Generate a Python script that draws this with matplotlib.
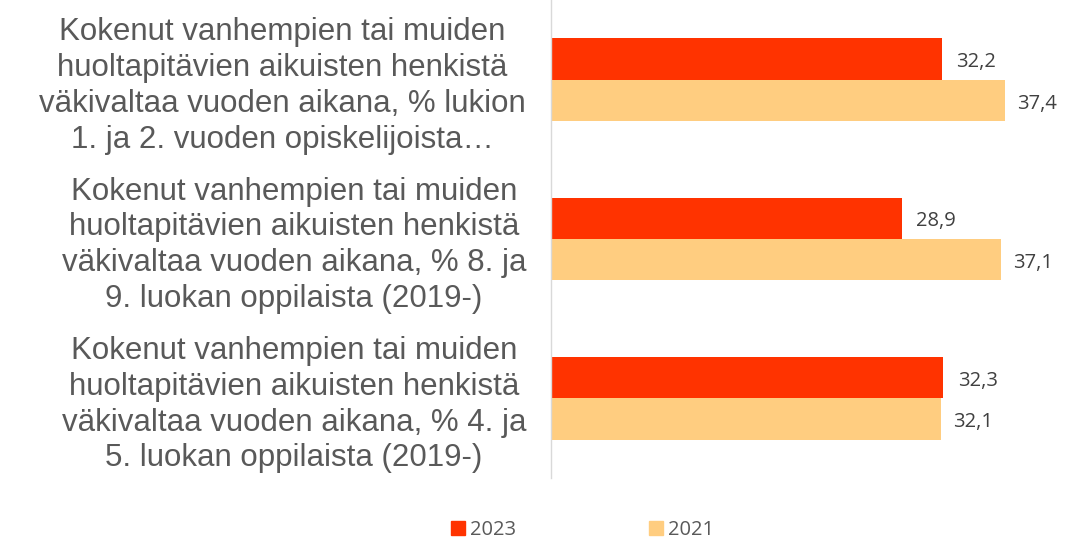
import matplotlib
matplotlib.use("Agg")
import matplotlib.pyplot as plt
import numpy as np
from matplotlib.lines import Line2D

categories = [
    "Kokenut vanhempien tai muiden\nhuoltapitävien aikuisten henkistä\nväkivaltaa vuoden aikana, % lukion\n1. ja 2. vuoden opiskelijoista…",
    "Kokenut vanhempien tai muiden\nhuoltapitävien aikuisten henkistä\nväkivaltaa vuoden aikana, % 8. ja\n9. luokan oppilaista (2019-)",
    "Kokenut vanhempien tai muiden\nhuoltapitävien aikuisten henkistä\nväkivaltaa vuoden aikana, % 4. ja\n5. luokan oppilaista (2019-)",
]
series_names = ["2023", "2021"]
values_2023 = [32.2, 28.9, 32.3]
values_2021 = [37.4, 37.1, 32.1]

c2023 = "#FF3300"
c2021 = "#FFCD80"
txt = "#595959"

fig = plt.figure(figsize=(10.79, 5.39), dpi=100)
ax = fig.add_axes([551/1079, 61/539, (1036.6-551)/1079, 478/539])

y = np.arange(len(categories))
h = 0.26
ax.barh(y - h/2, values_2023, height=h, color=c2023, label=series_names[0])
ax.barh(y + h/2, values_2021, height=h, color=c2021, label=series_names[1])

for yi, v in zip(y - h/2, values_2023):
    ax.text(v + 1.2, yi + 0.02, f"{v:.1f}".replace(".", ","), va="center", ha="left",
            fontsize=14.5, color="#404040", family="Open Sans")
for yi, v in zip(y + h/2, values_2021):
    ax.text(v + 1.0, yi + 0.02, f"{v:.1f}".replace(".", ","), va="center", ha="left",
            fontsize=14.5, color="#404040", family="Open Sans")

ax.set_xlim(0, 40)
ax.set_ylim(len(categories) - 0.5, -0.5)
ax.set_yticks(y)
ax.set_yticklabels(categories, multialignment="center", fontsize=22.5, color=txt,
                   family="Liberation Sans", linespacing=1.25)
ax.tick_params(axis="y", length=0, pad=18)
ax.set_xticks([])
for s in ["top", "right", "bottom"]:
    ax.spines[s].set_visible(False)
ax.spines["left"].set_color("#D9D9D9")
ax.spines["left"].set_linewidth(1.0)

handles = [Line2D([], [], marker="s", linestyle="none", markersize=10, color=c2023),
           Line2D([], [], marker="s", linestyle="none", markersize=10, color=c2021)]
leg = fig.legend(handles, series_names, loc="center", bbox_to_anchor=(582/1079, 1 - 530/539),
                 ncol=2, frameon=False, columnspacing=6.5, handletextpad=0.2,
                 handlelength=0.8, prop={"family": "Open Sans", "size": 14.5})
for t in leg.get_texts():
    t.set_color(txt)

fig.savefig("out.png", dpi=100)
